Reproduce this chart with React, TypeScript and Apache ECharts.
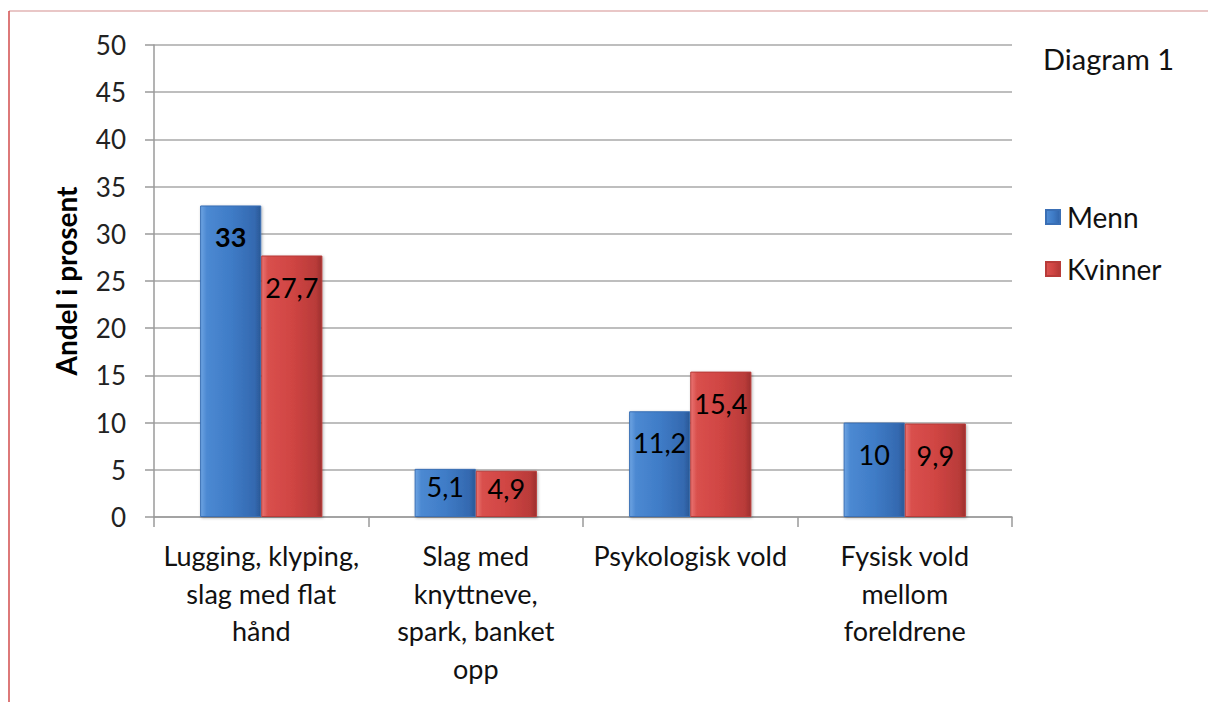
import React, { useEffect, useRef } from "react";
import * as echarts from "echarts";

const categories = [
  "Lugging, klyping,\nslag med flat\nhånd",
  "Slag med\nknyttneve,\nspark, banket\nopp",
  "Psykologisk vold",
  "Fysisk vold\nmellom\nforeldrene",
];
const menn = [33, 5.1, 11.2, 10];
const kvinner = [27.7, 4.9, 15.4, 9.9];
const seriesNames = ["Menn", "Kvinner"];
const yTitle = "Andel i prosent";
const chartTitle = "Diagram 1";

const FONT = "Lato, 'Open Sans', sans-serif";

const fmt = (v: number) => String(v).replace(".", ",");

const blueGrad = new echarts.graphic.LinearGradient(0, 0, 1, 0, [
  { offset: 0, color: "#6ea4e2" },
  { offset: 0.1, color: "#4c89d2" },
  { offset: 0.5, color: "#3f7cc7" },
  { offset: 0.9, color: "#3469b0" },
  { offset: 1, color: "#2a5896" },
]);
const redGrad = new echarts.graphic.LinearGradient(0, 0, 1, 0, [
  { offset: 0, color: "#ea7573" },
  { offset: 0.1, color: "#d9504d" },
  { offset: 0.5, color: "#d04543" },
  { offset: 0.9, color: "#b93b39" },
  { offset: 1, color: "#9c302e" },
]);

export default function App() {
  const ref = useRef<HTMLDivElement>(null);
  useEffect(() => {
    const chart = echarts.init(ref.current!, null, { renderer: "svg" });
    const mkData = (arr: number[], boldFirst: boolean) =>
      arr.map((v, i) => {
        const item: any = { value: v };
        const lab: any = {};
        if (boldFirst && i === 0) lab.fontWeight = "bold";
        if (v < 8) lab.distance = 4;
        item.label = lab;
        return item;
      });
    const labelCfg = {
      show: true,
      position: "insideTop",
      distance: 18,
      fontSize: 27,
      color: "#000",
      fontFamily: FONT,
      formatter: (p: any) => fmt(p.value),
    };
    chart.setOption({
      animation: false,
      textStyle: { fontFamily: FONT },
      grid: { left: 154, right: 196, top: 45, bottom: 185, containLabel: false },
      legend: {
        orient: "vertical",
        left: 1040,
        top: 198,
        itemGap: 24,
        itemWidth: 14,
        itemHeight: 14,
        icon: "rect",
        data: seriesNames,
        textStyle: { fontSize: 28, color: "#111", fontFamily: FONT, padding: [0, 0, 0, 2] },
      },
      xAxis: {
        type: "category",
        data: categories,
        axisLine: { lineStyle: { color: "#9a9a9a", width: 1.5 } },
        axisTick: { show: true, length: 10, lineStyle: { color: "#9a9a9a", width: 1.5 } },
        axisLabel: {
          fontSize: 27,
          color: "#111",
          lineHeight: 37.5,
          margin: 20,
          interval: 0,
          fontFamily: FONT,
          verticalAlign: "top",
        },
      },
      yAxis: {
        type: "value",
        min: 0,
        max: 50,
        interval: 5,
        name: yTitle,
        nameLocation: "middle",
        nameGap: 74,
        nameTextStyle: { fontSize: 28, fontWeight: "bold", color: "#000", fontFamily: FONT },
        axisLine: { show: true, lineStyle: { color: "#9a9a9a", width: 1.5 } },
        axisTick: { show: true, length: 9, lineStyle: { color: "#9a9a9a", width: 1.5 } },
        axisLabel: { fontSize: 26, color: "#222", margin: 28, fontFamily: FONT },
        splitLine: { lineStyle: { color: "#a8a8a8", width: 1.5 } },
      },
      series: [
        {
          name: seriesNames[0],
          type: "bar",
          data: mkData(menn, true),
          barGap: "0%",
          barCategoryGap: "43%",
          itemStyle: {
            color: blueGrad,
            borderColor: "#3a6fb5",
            borderWidth: 1,
            shadowColor: "rgba(0,0,0,0.3)",
            shadowBlur: 3,
            shadowOffsetX: 1,
            shadowOffsetY: 1,
          },
          label: labelCfg,
        },
        {
          name: seriesNames[1],
          type: "bar",
          data: mkData(kvinner, false),
          itemStyle: {
            color: redGrad,
            borderColor: "#b83b39",
            borderWidth: 1,
            shadowColor: "rgba(0,0,0,0.3)",
            shadowBlur: 3,
            shadowOffsetX: 1,
            shadowOffsetY: 1,
          },
          label: labelCfg,
        },
      ],
      graphic: [
        {
          type: "line",
          shape: { x1: 9, y1: 11, x2: 1208, y2: 11 },
          style: { stroke: "#e2b4b4", lineWidth: 1.5 },
        },
        {
          type: "line",
          shape: { x1: 9, y1: 11, x2: 9, y2: 702 },
          style: { stroke: "#d24c4c", lineWidth: 1.5 },
        },
        {
          type: "text",
          left: 1043,
          top: 44,
          style: { text: chartTitle, fontSize: 29, fill: "#111", fontFamily: FONT },
        },
      ],
    });
    return () => chart.dispose();
  }, []);
  return (
    <div
      ref={ref}
      style={{ position: "fixed", left: 0, top: 0, width: 1208, height: 702, background: "#fff" }}
    />
  );
}
